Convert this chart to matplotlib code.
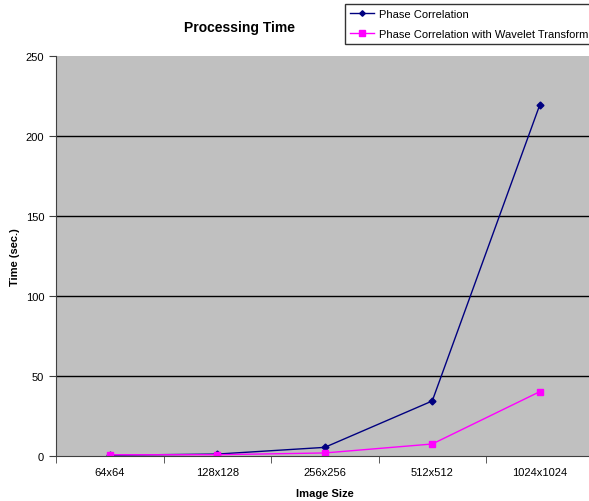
import matplotlib
matplotlib.use('Agg')
import numpy as np
import matplotlib.pyplot as plt

plt.rcParams['font.family'] = ['Liberation Sans', 'DejaVu Sans']

# processing time (seconds) per image size
sizes = ['64x64', '128x128', '256x256', '512x512', '1024x1024']
phase_corr = [0.5, 1.2, 5.4, 34.4, 219.4]
phase_corr_wavelet = [0.8, 0.8, 1.9, 7.5, 40.2]
yticks = [0, 50, 100, 150, 200, 250]

fig = plt.figure(figsize=(5.89, 5.02), dpi=100)
ax = fig.add_axes([56/589, 45/502, 537.5/589, 400/502])
ax.set_facecolor('#c0c0c0')

x = np.arange(len(sizes))
ax.plot(x, phase_corr, color='#000080', lw=1, marker='D', ms=3.5,
        label='Phase Correlation')
ax.plot(x, phase_corr_wavelet, color='#ff00ff', lw=1, marker='s', ms=5,
        label='Phase Correlation with Wavelet Transform')

ax.set_xlim(-0.5, len(sizes) - 0.5)
ax.set_ylim(0, 250)
ax.set_yticks(yticks)
for v in yticks[1:-1]:
    ax.axhline(v, color='black', lw=1, zorder=0.5)

# category labels centred, tick marks on the boundaries
ax.set_xticks(x)
ax.set_xticklabels(sizes, fontsize=8)
ax.tick_params(axis='x', which='major', length=0, pad=8)
ax.set_xticks(np.arange(-0.5, len(sizes) - 0.5 + 0.01), minor=True)
ax.tick_params(axis='x', which='minor', length=5, direction='out', color='#404040')
ax.tick_params(axis='y', length=5, direction='out', labelsize=8, color='#404040')

for s in ['top', 'right']:
    ax.spines[s].set_visible(False)
for s in ['left', 'bottom']:
    ax.spines[s].set_color('#404040')

ax.set_xlabel('Image Size', fontsize=8, fontweight='bold', labelpad=8)
ax.set_ylabel('Time (sec.)', fontsize=8, fontweight='bold', labelpad=4)

fig.text(240/589, 1 - 28/502, 'Processing Time', ha='center', va='center',
         fontsize=10, fontweight='bold')

leg = fig.legend(loc='upper left', bbox_to_anchor=(345/589, 1 - 5/502),
                 fontsize=8, fancybox=False, edgecolor='black',
                 handlelength=2.2, borderpad=0.45, labelspacing=0.9,
                 handletextpad=0.4, borderaxespad=0, markerscale=0.8)
leg.get_frame().set_linewidth(1)

plt.savefig('out.png', dpi=100)
